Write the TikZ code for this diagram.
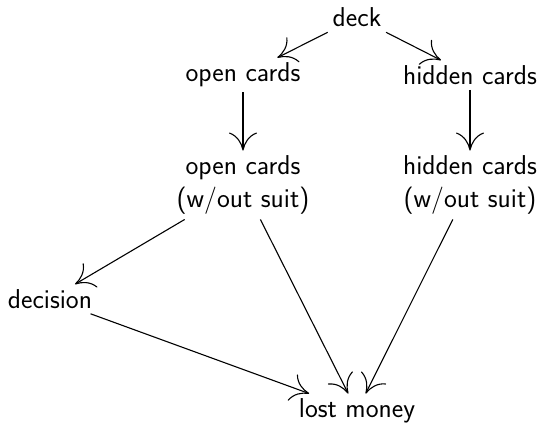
\documentclass[tikz,border=0pt]{standalone}
\usetikzlibrary{arrows.meta}
\begin{document}
\begin{tikzpicture}[x=1pt,y=-1pt,
  lbl/.style={font=\fontsize{27.3}{32.8}\selectfont\sffamily, inner sep=5pt, align=center},
  edge/.style={line width=1.1pt, -{Computer Modern Rightarrow[length=18pt,width=28pt,line width=1.1pt]}}]
\useasboundingbox (0,0) rectangle (543,425);
\node[lbl] (deck) at (357,17.5) {deck};
\node[lbl] (open) at (243,75) {open cards};
\node[lbl] (hidden) at (470,75) {hidden cards};
\node[lbl] (openw) at (243,185) {open cards\\(w/out suit)};
\node[lbl] (hiddenw) at (470,185) {hidden cards\\(w/out suit)};
\node[lbl] (decision) at (50,299) {decision};
\node[lbl] (lost) at (357,411) {lost money};
\draw[edge] (deck) -- (open);
\draw[edge] (deck) -- (hidden);
\draw[edge] (open) -- (openw);
\draw[edge] (hidden) -- (hiddenw);
\draw[edge] (openw) -- (decision);
\draw[edge] (openw) -- (lost);
\draw[edge] (hiddenw) -- (lost);
\draw[edge] (decision) -- (lost);
\end{tikzpicture}
\end{document}
